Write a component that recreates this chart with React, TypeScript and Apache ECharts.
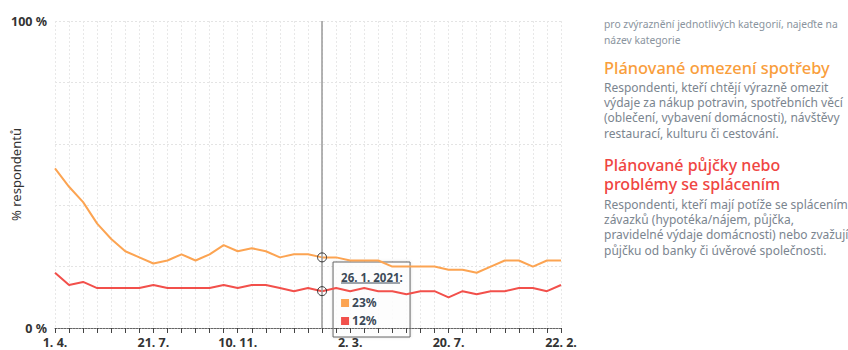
import React, { useEffect, useRef } from "react";
import * as echarts from "echarts";

const dates = [
  "1. 4. 2020", "14. 4. 2020", "28. 4. 2020", "12. 5. 2020", "26. 5. 2020", "16. 6. 2020", "30. 6. 2020",
  "21. 7. 2020", "11. 8. 2020", "1. 9. 2020", "22. 9. 2020", "13. 10. 2020", "27. 10. 2020", "10. 11. 2020",
  "24. 11. 2020", "8. 12. 2020", "22. 12. 2020", "5. 1. 2021", "12. 1. 2021", "26. 1. 2021", "9. 2. 2021",
  "2. 3. 2021", "16. 3. 2021", "6. 4. 2021", "27. 4. 2021", "18. 5. 2021", "8. 6. 2021", "29. 6. 2021",
  "20. 7. 2021", "17. 8. 2021", "14. 9. 2021", "12. 10. 2021", "9. 11. 2021", "7. 12. 2021", "4. 1. 2022",
  "1. 2. 2022", "22. 2. 2022",
];

const omezeni = [
  52, 46, 41, 34, 29, 25, 23, 21, 22, 24, 22, 24, 27, 25, 26, 25, 23, 24, 24, 23, 23, 22, 22, 22, 20, 20, 20,
  20, 19, 19, 18, 20, 22, 22, 20, 22, 22,
];

const pujcky = [
  18, 14, 15, 13, 13, 13, 13, 14, 13, 13, 13, 13, 14, 13, 14, 14, 13, 12, 13, 12, 13, 12, 13, 12, 12, 11, 12,
  12, 10, 12, 11, 12, 12, 13, 13, 12, 14,
];

const labelIndices = [0, 7, 13, 21, 28, 36];
const hoverIndex = 19;

const seriesNames = ["Plánované omezení spotřeby", "Plánované půjčky nebo problémy se splácením"];
const seriesColors = ["#fca452", "#f2504b"];
const headingColors = ["#f99e3c", "#ef4542"];

const hintText = "pro zvýraznění jednotlivých kategorií, najeďte na\nnázev kategorie";
const heading1 = "Plánované omezení spotřeby";
const body1 =
  "Respondenti, kteří chtějí výrazně omezit\nvýdaje za nákup potravin, spotřebních věcí\n(oblečení, vybavení domácnosti), návštěvy\nrestaurací, kulturu či cestování.";
const heading2Lines = ["Plánované půjčky nebo", "problémy se splácením"];
const body2 =
  "Respondenti, kteří mají potíže se splácením\nzávazků (hypotéka/nájem, půjčka,\npravidelné výdaje domácnosti) nebo zvažují\npůjčku od banky či úvěrové společnosti.";

const yTickLabels = ["0 %", "100 %"];

export default function App() {
  const ref = useRef<HTMLDivElement>(null);

  useEffect(() => {
    document.body.style.margin = "0";
    const chart = echarts.init(ref.current!, null, { renderer: "svg" });
    const font = "'Noto Sans', sans-serif";
    const values = [omezeni, pujcky];

    chart.setOption({
      animation: false,
      textStyle: { fontFamily: font },
      grid: { left: 55, right: 287, top: 21, bottom: 22, outerBoundsMode: "none", containLabel: false },
      xAxis: {
        type: "category",
        data: dates,
        boundaryGap: false,
        axisLine: { show: true, lineStyle: { color: "#666", width: 1, type: [2, 1] } },
        axisTick: {
          show: true,
          interval: 0,
          length: 5,
          lineStyle: { color: "#444", width: 1 },
        },
        axisLabel: {
          interval: (i: number) => labelIndices.includes(i),
          formatter: (v: string) => v.split(" ").slice(0, 2).join(" "),
          color: "#333",
          fontWeight: "bold",
          fontSize: 12.5,
          fontFamily: font,
          margin: 8,
        },
        splitLine: {
          show: true,
          interval: 0,
          lineStyle: { color: "#e8e8e8", type: [2, 2], width: 1 },
        },
      },
      yAxis: {
        type: "value",
        min: 0,
        max: 100,
        interval: 20,
        name: "% respondentů",
        nameLocation: "middle",
        nameGap: 33,
        nameMoveOverlap: false,
        nameTextStyle: { color: "#333", fontSize: 13, fontFamily: font },
        axisLine: { show: false },
        axisTick: { show: false },
        axisLabel: {
          formatter: (v: number) => (v === 0 ? yTickLabels[0] : v === 100 ? yTickLabels[1] : ""),
          color: "#333",
          fontWeight: "bold",
          fontSize: 12.5,
          fontFamily: font,
          margin: 8,
        },
        splitLine: { show: true, lineStyle: { color: "#e4e4e4", type: [2, 2], width: 1 } },
      },
      series: values.map((vals, si) => ({
        name: seriesNames[si],
        type: "line",
        data: vals,
        showSymbol: false,
        silent: true,
        lineStyle: { color: seriesColors[si], width: 2 },
        itemStyle: { color: seriesColors[si] },
        z: 3,
        markLine:
          si === 0
            ? {
                silent: true,
                symbol: ["none", "none"],
                label: { show: false },
                lineStyle: { color: "#9a9a9a", width: 1.5, type: "solid" },
                data: [{ xAxis: hoverIndex }],
              }
            : undefined,
        markPoint: {
          silent: true,
          symbol: "circle",
          symbolSize: 9,
          label: { show: false },
          itemStyle: { color: "rgba(255,255,255,0)", borderColor: "#333", borderWidth: 1 },
          data: [{ coord: [hoverIndex, vals[hoverIndex]] }],
        },
      })),
    });

    const px = chart.convertToPixel({ gridIndex: 0 }, [hoverIndex, 0]) as number[];
    const tx = px[0] + 11;
    const ty = 262;
    const textX = 604;

    chart.setOption({
      graphic: [
        {
          type: "text",
          x: textX,
          y: 16,
          style: { text: hintText, font: `10.3px ${font}`, fill: "#8a949e", lineHeight: 16, verticalAlign: "top" },
        },
        {
          type: "text",
          x: textX,
          y: 58,
          style: {
            text: heading1,
            font: `500 16.4px ${font}`,
            fill: headingColors[0],
            lineHeight: 19.7,
            verticalAlign: "top",
          },
        },
        {
          type: "text",
          x: textX,
          y: 79.3,
          style: { text: body1, font: `12px ${font}`, fill: "#7b858f", lineHeight: 15.4, verticalAlign: "top" },
        },
        ...heading2Lines.map((line, i) => ({
          type: "text",
          x: textX,
          y: 165 + i * 19.3,
          style: {
            text: line,
            font: `500 16px ${font}`,
            fill: headingColors[1],
            verticalAlign: "middle",
          },
        })),
        {
          type: "text",
          x: textX,
          y: 196.3,
          style: { text: body2, font: `12px ${font}`, fill: "#7b858f", lineHeight: 15.4, verticalAlign: "top" },
        },
        {
          type: "group",
          x: tx,
          y: ty,
          z: 100,
          children: [
            {
              type: "rect",
              shape: { x: 0, y: 0, width: 77, height: 75 },
              style: {
                fill: "rgba(255,255,255,0.85)",
                stroke: "#666",
                lineWidth: 1,
                shadowBlur: 3,
                shadowColor: "rgba(0,0,0,0.15)",
              },
            },
            {
              type: "text",
              x: 8,
              y: 15.7,
              style: {
                text: `${dates[hoverIndex]}:`,
                font: `bold 11.5px ${font}`,
                fill: "#3c4a58",
                verticalAlign: "middle",
              },
            },
            {
              type: "line",
              shape: { x1: 8, y1: 21, x2: 67, y2: 21 },
              style: { stroke: "#3c4a58", lineWidth: 1 },
            },
            {
              type: "rect",
              shape: { x: 8, y: 37, width: 8, height: 8 },
              style: { fill: seriesColors[0] },
            },
            {
              type: "text",
              x: 19,
              y: 40.5,
              style: {
                text: `${omezeni[hoverIndex]}%`,
                font: `bold 12px ${font}`,
                fill: "#3c4a58",
                verticalAlign: "middle",
              },
            },
            {
              type: "rect",
              shape: { x: 8, y: 55, width: 8, height: 8 },
              style: { fill: seriesColors[1] },
            },
            {
              type: "text",
              x: 19,
              y: 58.5,
              style: {
                text: `${pujcky[hoverIndex]}%`,
                font: `bold 12px ${font}`,
                fill: "#3c4a58",
                verticalAlign: "middle",
              },
            },
          ],
        },
      ],
    });

    return () => chart.dispose();
  }, []);

  return <div ref={ref} style={{ width: 848, height: 350 }} />;
}
